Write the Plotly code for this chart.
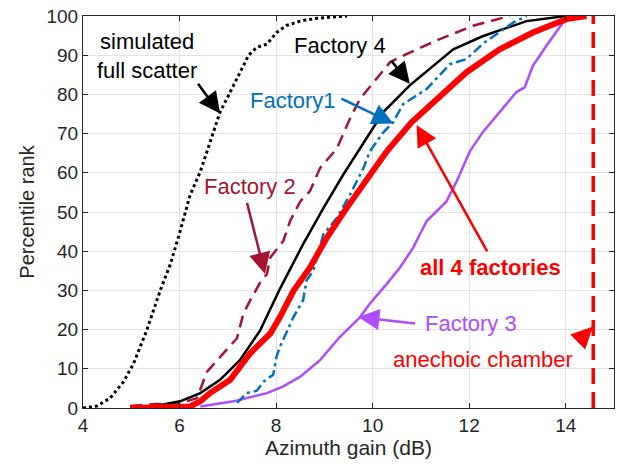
import plotly.graph_objects as go

# Azimuth gain (dB) vs percentile rank for each measured population
sim_x = [4.0, 4.29, 4.56, 4.84, 5.05, 5.32, 5.6, 5.81, 6.01, 6.22, 6.43, 6.63, 6.84, 7.05, 7.25,
         7.43, 7.6, 7.81, 8.01, 8.22, 8.5, 8.84, 9.1, 9.47]
sim_y = [0, 0.5, 2.5, 6.7, 11.4, 19.8, 30, 36.7, 45, 54.4, 60.3, 68, 75.5, 80.6, 85.7,
         90, 92, 92.8, 95.8, 97.6, 98.7, 99.4, 99.7, 100]

f4_x = [4.98, 5.5, 6.01, 6.43, 6.84, 7.25, 7.67, 8.08, 8.56, 8.98, 9.39, 9.88, 10.22,
        10.77, 11.25, 11.67, 12.29, 13.19, 14.0]
f4_y = [0, 0.5, 1.7, 3.8, 7.2, 12.2, 19.8, 30.4, 41.8, 51.0, 59.5, 68.8, 75.5,
        82.3, 87.3, 91.5, 94.9, 98.7, 100]

f2_x = [4.98, 5.5, 6.0, 6.36, 6.57, 6.98, 7.19, 7.32, 7.46, 7.67, 7.81, 7.88, 8.15, 8.29,
        8.5, 8.7, 8.91, 9.26, 9.53, 9.74, 10.08, 10.36, 10.7, 11.39, 12.08, 12.84]
f2_y = [0.5, 1.0, 1.2, 2.5, 9.3, 14.8, 17.8, 24, 27.4, 32, 34.2, 38.4, 42.6, 47.7,
        52.7, 55.3, 61.2, 66.2, 73.8, 78.9, 83.9, 88.2, 90.3, 94.1, 97.5, 100]

f1_x = [7.19, 7.39, 7.6, 7.74, 7.94, 8.01, 8.08, 8.22, 8.36, 8.56, 8.63, 8.77, 8.98, 9.26,
        9.53, 9.81, 9.94, 10.2, 10.43, 10.63, 11.12, 11.6, 11.94, 12.29, 12.63,
        12.91, 13.19]
f1_y = [1.3, 3.8, 4.4, 6.7, 8.5, 13.1, 15.6, 19.5, 23.2, 27.5, 32.5, 35, 44.3, 48.5,
        54.4, 61.2, 65.4, 70, 73, 77.5, 81.4, 87.7, 89, 93.0, 95.8, 98.3, 100]

all_x = [4.98, 5.5, 6.22, 6.43, 6.63, 6.84, 7.05, 7.25, 7.46, 7.67, 7.88, 8.08, 8.36, 8.7,
         9.05, 9.46, 9.88, 10.29, 10.8, 11.25, 11.94, 12.63, 13.32, 14.01, 14.43]
all_y = [0, 0.2, 0.4, 1.7, 3.8, 5.5, 7.2, 10.5, 13.9, 16.5, 19, 23.2, 29.9, 35.8,
         43.4, 51.0, 58.6, 65.4, 72.8, 78, 85.6, 91.5, 95.8, 99.2, 100]

f3_x = [6.43, 7.12, 7.81, 8.15, 8.5, 8.91, 9.32, 9.74, 9.94, 10.29, 10.57, 10.84, 11.12,
        11.53, 11.74, 12.01, 12.29, 12.63, 12.98, 13.15, 13.32, 13.6, 13.94, 14.15, 14.33]
f3_y = [0.4, 1.7, 3.8, 5.5, 8, 12.2, 18.1, 23.2, 26.6, 31.6, 35.9, 40.9, 47.7,
        52.7, 57.8, 65.4, 70.5, 75.5, 80.6, 81.8, 87.3, 92.4, 98.3, 99.6, 100]

chamber_gain = 14.57
chamber_y = [0, 100]

x_ticks = [4, 6, 8, 10, 12, 14]
y_ticks = [0, 10, 20, 30, 40, 50, 60, 70, 80, 90, 100]

BLACK = "#000000"
DARKRED = "#A2142F"
BLUE = "#0072BD"
RED = "#FF0000"
PURPLE = "#AE4CFF"
AXIS = "#262626"
FONT = "Liberation Sans, Arial, sans-serif"

fig = go.Figure()
fig.add_trace(go.Scatter(x=sim_x, y=sim_y, mode="lines",
                         line=dict(color=BLACK, width=3, dash="3px,3px")))
fig.add_trace(go.Scatter(x=f3_x, y=f3_y, mode="lines",
                         line=dict(color=PURPLE, width=2.5)))
fig.add_trace(go.Scatter(x=f2_x, y=f2_y, mode="lines",
                         line=dict(color=DARKRED, width=2.5, dash="12px,7px")))
fig.add_trace(go.Scatter(x=f4_x, y=f4_y, mode="lines",
                         line=dict(color=BLACK, width=2.5)))
fig.add_trace(go.Scatter(x=f1_x, y=f1_y, mode="lines",
                         line=dict(color=BLUE, width=2.5, dash="10px,4px,3px,4px")))
fig.add_trace(go.Scatter(x=all_x, y=all_y, mode="lines",
                         line=dict(color=RED, width=6)))
fig.add_trace(go.Scatter(x=[chamber_gain, chamber_gain], y=chamber_y, mode="lines",
                         line=dict(color=RED, width=3.5, dash="16px,8px")))

# Labels and pointer arrows (tail -> tip in data coordinates)
labels = [
    ("simulated<br>full scatter", 5.33, 89.8, BLACK, False),
    ("Factory 4", 9.32, 92.4, BLACK, False),
    ("Factory1", 8.36, 78.5, BLUE, False),
    ("Factory 2", 7.45, 56.5, DARKRED, False),
    ("all 4 factories", 12.44, 35.9, RED, True),
    ("Factory 3", 12.03, 21.5, PURPLE, False),
    ("anechoic chamber", 12.29, 12.4, RED, False),
]
arrows = [
    (6.36, 83.1, 6.84, 75.1, BLACK),
    (10.36, 89.0, 10.77, 82.7, BLACK),
    (9.32, 79.1, 10.43, 72.6, BLUE),
    (7.39, 52.7, 7.77, 34.2, DARKRED),
    (12.39, 39.6, 10.91, 72.2, RED),
    (10.91, 21.5, 9.70, 23.2, PURPLE),
    (14.22, 16.5, 14.56, 20.7, RED),
]

for text, x, y, color, bold in labels:
    fig.add_annotation(x=x, y=y, xref="x", yref="y", showarrow=False,
                       text=f"<b>{text}</b>" if bold else text,
                       font=dict(family=FONT, size=22, color=color),
                       align="center")

for tx, ty, hx, hy, color in arrows:
    fig.add_annotation(x=hx, y=hy, ax=tx, ay=ty, xref="x", yref="y",
                       axref="x", ayref="y", text="", showarrow=True,
                       arrowhead=2, arrowsize=1.7, arrowwidth=2.5,
                       arrowcolor=color, standoff=0)

fig.update_layout(
    width=621, height=466,
    margin=dict(l=83, r=6, t=13, b=58),
    paper_bgcolor="white", plot_bgcolor="white",
    showlegend=False,
    font=dict(family=FONT, color=AXIS),
)
fig.update_xaxes(
    range=[4, 15], tickvals=x_ticks, ticks="inside", ticklen=5, tickcolor=AXIS,
    showline=True, linecolor=AXIS, linewidth=1, mirror="ticks",
    showgrid=True, gridcolor="#E3E3E3", gridwidth=1, zeroline=False,
    tickfont=dict(size=19, color=AXIS),
    title=dict(text="Azimuth gain (dB)", font=dict(size=21, color=AXIS), standoff=2),
)
fig.update_yaxes(
    range=[0, 100], tickvals=y_ticks, ticks="inside", ticklen=5, tickcolor=AXIS,
    showline=True, linecolor=AXIS, linewidth=1, mirror="ticks",
    showgrid=True, gridcolor="#E3E3E3", gridwidth=1, zeroline=False,
    tickfont=dict(size=19, color=AXIS),
    title=dict(text="Percentile rank", font=dict(size=20, color=AXIS), standoff=6),
)

fig.write_html("out.html")
